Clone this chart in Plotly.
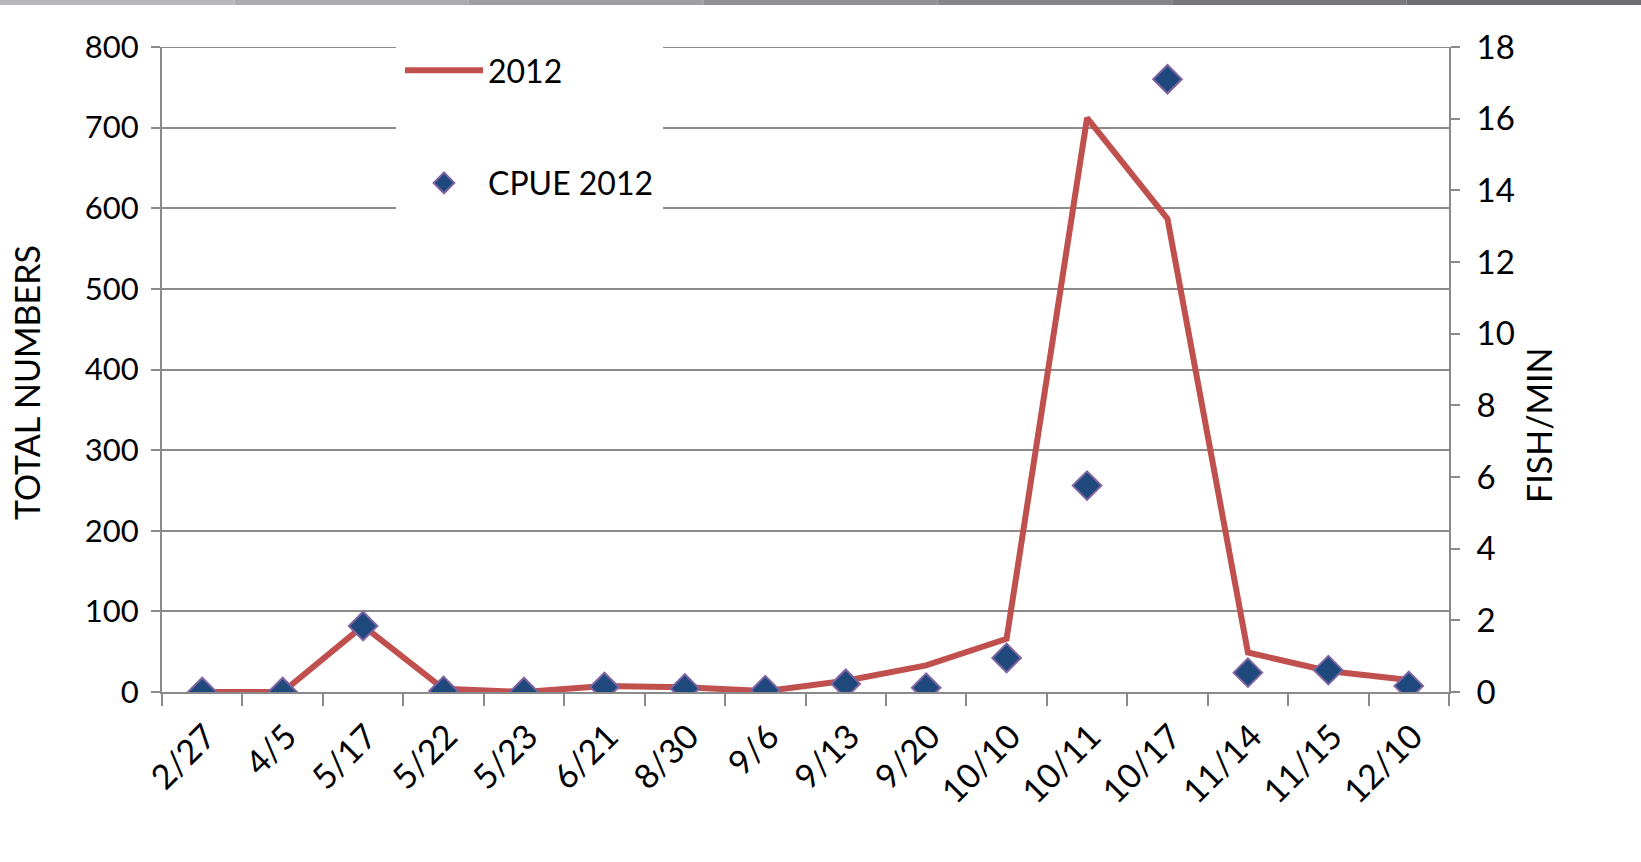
import plotly.graph_objects as go

dates = ["2/27", "4/5", "5/17", "5/22", "5/23", "6/21", "8/30", "9/6",
         "9/13", "9/20", "10/10", "10/11", "10/17", "11/14", "11/15", "12/10"]
total_2012 = [0, 0, 82, 4, 0, 7.5, 6, 1, 14, 33, 66, 712, 587, 49, 26, 15]
cpue_2012 = [0, 0, 1.84, 0.03, 0, 0.14, 0.1, 0.05, 0.23, 0.12, 0.95, 5.76, 17.1, 0.54, 0.61, 0.17]
left_ticks = list(range(0, 801, 100))
right_ticks = list(range(0, 19, 2))

W, H = 1641, 862
L, R, T, B = 162, 1641 - 1449, 47, 862 - 692
pw, ph = W - L - R, H - T - B

FONT = "Lato"
GRID = "#8a8a8a"

fig = go.Figure()
fig.add_trace(go.Scatter(
    x=dates, y=total_2012, name="2012", mode="lines",
    line=dict(color="#C0504D", width=6), legendgroup="a", yaxis="y"))
fig.add_trace(go.Scatter(
    x=dates, y=cpue_2012, name="CPUE 2012", mode="markers",
    marker=dict(symbol="diamond", size=22, color="#1F497D",
                line=dict(color="#8064A2", width=2)),
    legendgroup="b", yaxis="y2"))


def px_x(p):
    return (p - L) / pw


def px_y(p):
    return (H - B - p) / ph


shapes = []
# top gray bar (decoration)
cols = ["#b8b8bc", "#acacb0", "#a0a0a4", "#929296", "#858589", "#78787c", "#6e6e72"]
n = len(cols)
for i, c in enumerate(cols):
    shapes.append(dict(type="rect", xref="paper", yref="paper",
                       x0=px_x(W * i / n), x1=px_x(W * (i + 1) / n),
                       y0=px_y(5), y1=px_y(0), line=dict(width=0), fillcolor=c, layer="above"))
# top gridline at 800 (plotly omits the gridline at the range edge)
shapes.append(dict(type="line", xref="paper", yref="y", x0=0, x1=1,
                   y0=left_ticks[-1], y1=left_ticks[-1],
                   line=dict(color=GRID, width=2), layer="below"))

fig.update_layout(
    width=W, height=H,
    margin=dict(l=L, r=R, t=T, b=B),
    paper_bgcolor="white", plot_bgcolor="white",
    font=dict(family=FONT, size=31, color="black"),
    showlegend=True,
    legend=dict(x=px_x(396), y=px_y(39), xanchor="left", yanchor="top",
                bgcolor="white", bordercolor="white", borderwidth=4,
                tracegroupgap=68, font=dict(size=32), itemwidth=78),
    xaxis=dict(type="category", range=[-0.5, 15.5], tickson="boundaries",
               ticks="outside", ticklen=12, tickcolor=GRID, tickwidth=2,
               showline=True, linecolor=GRID, linewidth=2, showgrid=False,
               tickangle=-45, tickfont=dict(size=34), zeroline=False,
               ticklabelstandoff=9, ticklabelshift=4),
    yaxis=dict(range=[0, 800], tickvals=left_ticks, ticks="outside", ticklen=9,
               tickcolor=GRID, tickwidth=2, showline=True, linecolor=GRID, linewidth=2,
               showgrid=True, gridcolor=GRID, gridwidth=2, zeroline=False,
               tickfont=dict(size=31), ticklabelstandoff=6),
    yaxis2=dict(range=[0, 18], tickvals=right_ticks, overlaying="y", side="right",
                ticks="outside", ticklen=9, tickcolor=GRID, tickwidth=2,
                showline=True, linecolor=GRID, linewidth=2, showgrid=False,
                zeroline=False, tickfont=dict(size=33), ticklabelstandoff=10),
    shapes=shapes,
    annotations=[
        dict(text="TOTAL NUMBERS", xref="paper", yref="paper", x=px_x(26), y=px_y(383),
             showarrow=False, textangle=-90, font=dict(size=34),
             xanchor="center", yanchor="middle"),
        dict(text="FISH/MIN", xref="paper", yref="paper", x=px_x(1538), y=px_y(425),
             showarrow=False, textangle=-90, font=dict(size=34),
             xanchor="center", yanchor="middle"),
    ],
)

fig.write_html("out.html", config={"displayModeBar": False},
               post_script="document.body.style.margin='0';")
